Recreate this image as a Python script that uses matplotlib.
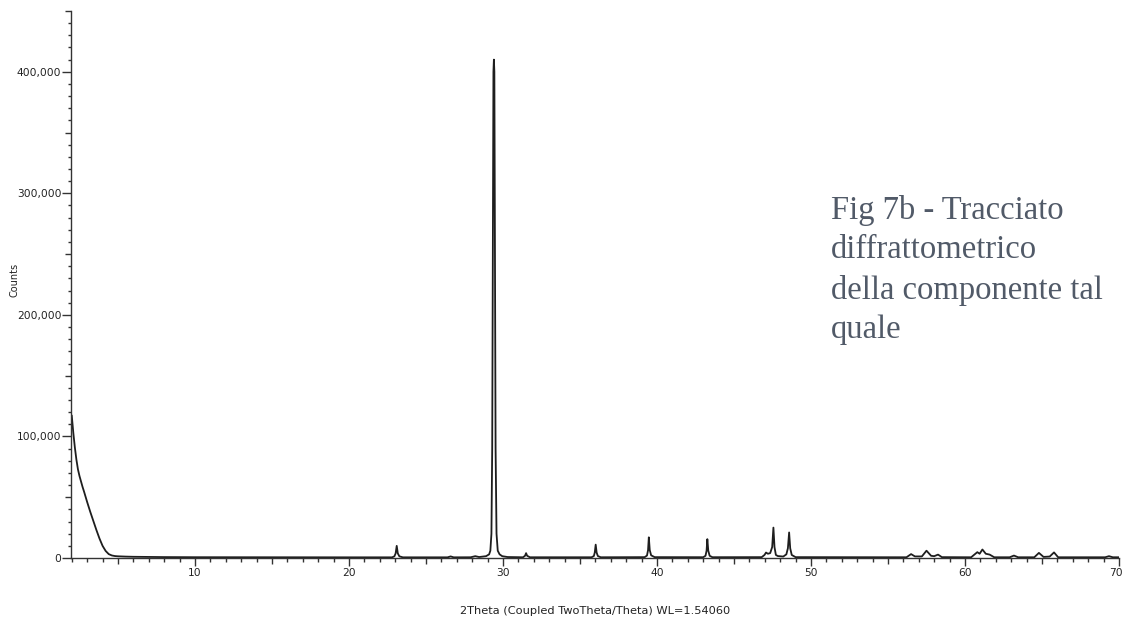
import matplotlib
matplotlib.use("Agg")
import matplotlib.pyplot as plt
import matplotlib.transforms as mtransforms
from matplotlib.ticker import FixedLocator, FuncFormatter

# ---- data ----
two_theta = [
    2.0, 2.1, 2.2, 2.3, 2.4, 2.5, 2.6, 2.7, 2.8, 3.0, 3.2, 3.4, 3.6, 3.8, 4.0, 4.2, 4.4, 4.6, 4.8, 5.0, 5.5,
    6.0, 7.0, 8.0, 10.0, 13.0, 16.0, 20.0,
    22.8, 22.95, 23.03, 23.1, 23.17, 23.27, 23.5,
    26.4, 26.6, 26.8,
    27.9, 28.2, 28.45,
    28.9, 29.1, 29.18, 29.25, 29.3, 29.34, 29.38, 29.41, 29.44, 29.48, 29.52, 29.58, 29.66, 29.78, 29.95, 30.3,
    31.3, 31.43, 31.5, 31.57, 31.75,
    35.75, 35.9, 35.96, 36.02, 36.08, 36.16, 36.35,
    39.2, 39.35, 39.42, 39.47, 39.53, 39.62, 39.85,
    43.0, 43.15, 43.22, 43.27, 43.33, 43.42, 43.6,
    46.8, 46.98, 47.08, 47.2, 47.35, 47.48, 47.56, 47.63, 47.72, 47.85,
    48.2, 48.4, 48.5, 48.58, 48.65, 48.75, 49.0,
    56.2, 56.5, 56.75, 57.2, 57.5, 57.8, 58.0, 58.25, 58.5,
    60.4, 60.8, 60.95, 61.13, 61.35, 61.6, 61.9,
    62.9, 63.18, 63.45,
    64.5, 64.8, 65.1, 65.5, 65.78, 66.05,
    69.1, 69.35, 69.6, 70.0,
]
counts = [
    117000, 103000, 91000, 81000, 73000, 67500, 63000, 58500, 54500, 46000, 38000, 30500, 23000, 16000, 10000, 5800, 3200, 2100, 1600, 1400, 1150,
    1000, 850, 750, 650, 600, 550, 550,
    550, 1400, 3800, 10000, 3800, 1400, 550,
    550, 1300, 550,
    600, 1500, 800,
    1500, 3000, 6000, 20000, 90000, 250000, 400000, 410000, 400000, 250000, 90000, 20000, 6000, 3000, 1500, 800,
    600, 1800, 4000, 1800, 600,
    600, 1600, 4500, 11000, 4500, 1600, 600,
    700, 2000, 6500, 17000, 6500, 2200, 700,
    650, 1800, 6000, 15500, 6000, 1800, 650,
    700, 2500, 4500, 3500, 4000, 9000, 25000, 9000, 2500, 1600,
    1200, 3000, 8000, 21000, 8000, 2500, 700,
    600, 3200, 1300, 1300, 6000, 1800, 1500, 2800, 700,
    600, 4800, 3500, 7000, 3500, 2800, 600,
    600, 2000, 600,
    600, 4200, 900, 1200, 4600, 600,
    600, 1500, 600, 600,
]

x_major = [10, 20, 30, 40, 50, 60, 70]
y_major = [0, 100000, 200000, 300000, 400000]
x_label = "2Theta (Coupled TwoTheta/Theta) WL=1.54060"
y_label = "Counts"
caption = "Fig 7b - Tracciato\ndiffrattometrico\ndella componente tal\nquale"

# ---- figure ----
fig = plt.figure(figsize=(11.24, 6.21), dpi=100)
ax = fig.add_axes([71 / 1124, 63 / 621, 1048 / 1124, 547 / 621])

ax.plot(two_theta, counts, color="#1e1e1e", lw=1.3, solid_joinstyle="round")

ax.set_xlim(1.95, 70)
ax.set_ylim(0, 450000)

for s in ("top", "right"):
    ax.spines[s].set_visible(False)
for s in ("left", "bottom"):
    ax.spines[s].set_color("#333333")
    ax.spines[s].set_linewidth(1.0)

ax.xaxis.set_major_locator(FixedLocator(x_major))
ax.xaxis.set_minor_locator(FixedLocator([v for v in range(2, 71) if v % 5 != 0]))
ax.yaxis.set_major_locator(FixedLocator(y_major))
ax.yaxis.set_minor_locator(FixedLocator([v for v in range(0, 450001, 10000) if v % 50000 != 0]))
ax.yaxis.set_major_formatter(FuncFormatter(lambda v, p: f"{int(v):,}"))

ax.tick_params(axis="x", which="major", length=6, width=1.0, color="#333333", pad=1.5,
               labelsize=7.7, labelcolor="#222222")
ax.tick_params(axis="x", which="minor", length=3, width=1.0, color="#333333")
ax.tick_params(axis="y", which="major", length=6.5, width=1.0, color="#333333", pad=0.5,
               labelsize=7.7, labelcolor="#222222")
ax.tick_params(axis="y", which="minor", length=2, width=1.0, color="#333333")

# medium ticks at odd multiples of 5 degrees / 50,000 counts
secx = ax.secondary_xaxis("bottom")
secx.xaxis.set_major_locator(FixedLocator([5, 15, 25, 35, 45, 55, 65]))
secx.tick_params(length=4.5, width=1.0, color="#333333", labelbottom=False)
secx.spines["bottom"].set_visible(False)
secy = ax.secondary_yaxis("left")
secy.yaxis.set_major_locator(FixedLocator([50000, 150000, 250000, 350000, 450000]))
secy.tick_params(length=4, width=1.0, color="#333333", labelleft=False)
secy.spines["left"].set_visible(False)

# nudge the last x label left so it stays inside the figure, as in the reference
fig.canvas.draw()
last = ax.get_xticklabels()[-1]
last.set_transform(last.get_transform() + mtransforms.ScaledTranslation(-3 / 100, 0, fig.dpi_scale_trans))

fig.text(595 / 1124, 1 - 611 / 621, x_label, ha="center", va="center",
         fontsize=8.2, color="#222222", family="DejaVu Sans")
fig.text(15 / 1124, 1 - 280 / 621, y_label, ha="center", va="center", rotation=90,
         fontsize=7, color="#222222", family="DejaVu Sans")

fig.text(831 / 1124, 1 - 338 / 621, caption, ha="left", va="baseline",
         fontsize=23.5, color="#515a68", family="Liberation Serif", linespacing=1.38)

fig.savefig("out.png", dpi=100, facecolor="white")
